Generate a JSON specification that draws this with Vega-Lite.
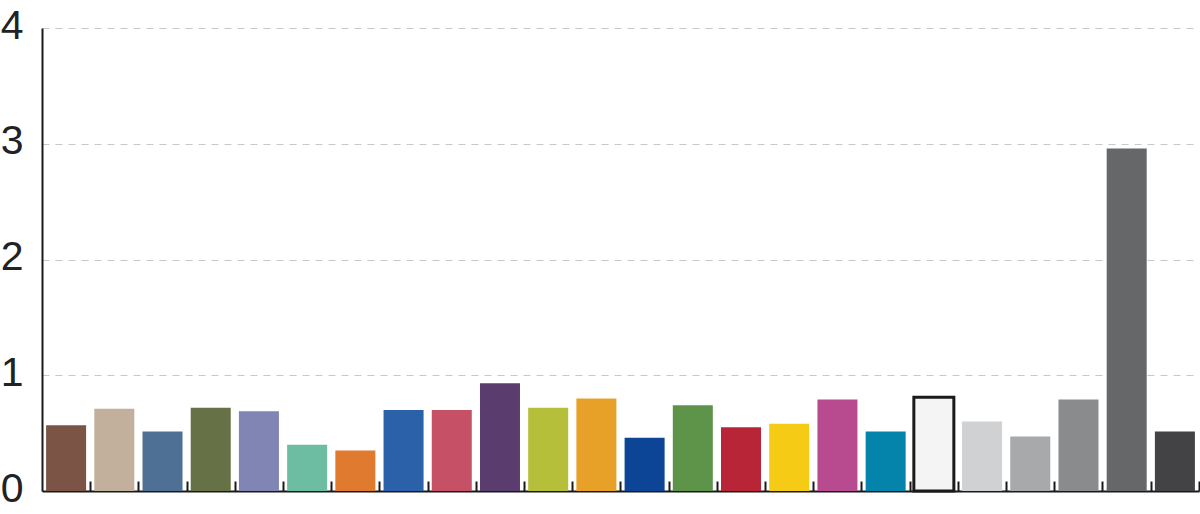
{
  "$schema": "https://vega.github.io/schema/vega-lite/v6.json",
  "autosize": {"type": "none"},
  "width": 1157,
  "height": 463,
  "padding": {"left": 42, "top": 28, "right": 1, "bottom": 23},
  "background": "white",
  "config": {"view": {"stroke": null}},
  "data": {"values": [
    {"k": "a01", "v": 0.568, "c": "#7B5445"},
    {"k": "a02", "v": 0.71, "c": "#C2B09D"},
    {"k": "a03", "v": 0.514, "c": "#4E7094"},
    {"k": "a04", "v": 0.72, "c": "#667245"},
    {"k": "a05", "v": 0.69, "c": "#8185B4"},
    {"k": "a06", "v": 0.40, "c": "#6CBDA2"},
    {"k": "a07", "v": 0.35, "c": "#E07A2F"},
    {"k": "a08", "v": 0.70, "c": "#2A61A8"},
    {"k": "a09", "v": 0.70, "c": "#C65166"},
    {"k": "a10", "v": 0.93, "c": "#5A3C6E"},
    {"k": "a11", "v": 0.72, "c": "#B6BF3A"},
    {"k": "a12", "v": 0.80, "c": "#E8A128"},
    {"k": "a13", "v": 0.46, "c": "#0C4595"},
    {"k": "a14", "v": 0.74, "c": "#5D944A"},
    {"k": "a15", "v": 0.55, "c": "#B82536"},
    {"k": "a16", "v": 0.58, "c": "#F6CB16"},
    {"k": "a17", "v": 0.79, "c": "#B84B8F"},
    {"k": "a18", "v": 0.514, "c": "#0484AA"},
    {"k": "a19", "v": 0.81, "c": "#F4F4F4", "s": "#1a1a1a"},
    {"k": "a20", "v": 0.60, "c": "#D0D1D3"},
    {"k": "a21", "v": 0.47, "c": "#A8A9AB"},
    {"k": "a22", "v": 0.79, "c": "#8A8B8D"},
    {"k": "a23", "v": 2.96, "c": "#666769"},
    {"k": "a24", "v": 0.514, "c": "#434345"}
  ]},
  "mark": {"type": "bar", "strokeWidth": 3, "strokeJoin": "miter"},
  "encoding": {
    "x": {
      "field": "k", "type": "nominal", "sort": null,
      "scale": {"paddingInner": 0.17, "paddingOuter": 0.085},
      "axis": {
        "title": null, "labels": false, "bandPosition": 1, "tickOffset": 4,
        "domainColor": "#1a1a1a", "domainWidth": 2,
        "tickColor": "#1a1a1a", "tickWidth": 2, "tickSize": -10, "grid": false
      }
    },
    "y": {
      "field": "v", "type": "quantitative",
      "scale": {"domain": [0, 4], "nice": false, "zero": true},
      "axis": {
        "title": null, "values": [0, 1, 2, 3, 4], "ticks": false, "tickSize": 0,
        "labelPadding": 19, "labelFontSize": 41, "labelFont": "Liberation Sans",
        "labelColor": "#222222", "labelOffset": -2, "labelBaseline": "middle",
        "domainColor": "#1a1a1a", "domainWidth": 2,
        "grid": true, "gridColor": "#c8c8c8", "gridDash": [7, 6], "gridWidth": 1.2
      }
    },
    "fill": {"field": "c", "type": "nominal", "scale": null, "legend": null},
    "stroke": {"field": "s", "type": "nominal", "scale": null, "legend": null}
  }
}
